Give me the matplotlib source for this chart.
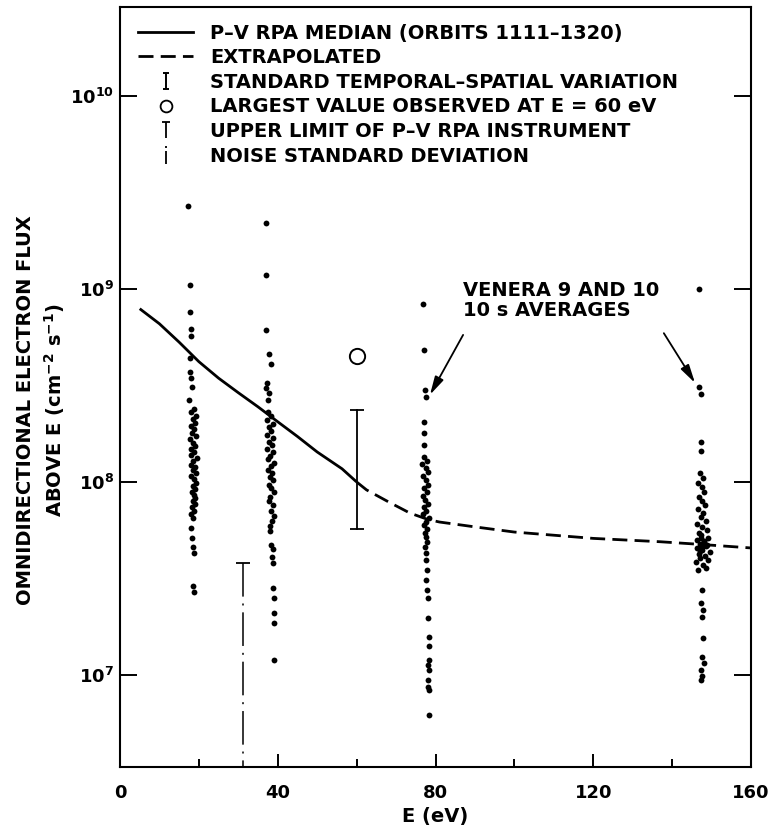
import math
import matplotlib
matplotlib.use("Agg")
import matplotlib.pyplot as plt
from matplotlib.path import Path
from matplotlib.lines import Line2D
from matplotlib.ticker import FixedLocator, FuncFormatter

plt.rcParams['font.family'] = ['DejaVu Sans']
plt.rcParams['mathtext.fontset'] = 'dejavusans'

# ---- P-V RPA median spectrum (measured) and its extrapolation ----
median_E = [5, 10, 15, 20, 25, 30, 35, 40, 45, 50, 56.3, 60]
median_flux = [7.9e8, 6.6e8, 5.3e8, 4.2e8, 3.45e8, 2.9e8, 2.45e8, 2.05e8,
               1.72e8, 1.43e8, 1.17e8, 1.0e8]
extrap_E = [60, 62.5, 68, 73.5, 78, 81, 90, 100, 120, 137, 147, 160]
extrap_flux = [1.0e8, 9.1e7, 7.9e7, 6.9e7, 6.4e7, 6.2e7, 5.85e7, 5.5e7,
               5.1e7, 4.9e7, 4.75e7, 4.55e7]

# ---- temporal-spatial variation and largest value at 60 eV ----
var_E = 60
var_low, var_high = 5.7e7, 2.36e8
largest_E = 60
largest_flux = 4.5e8

# ---- instrument upper limit / noise standard deviation ----
noise_E = 31.2
noise_limit = 3.8e7

# ---- Venera 9 and 10, 10 s averages ----
v20_E = [17.2, 17.7, 17.8, 18.0, 18.0, 17.7, 17.8, 17.9, 18.2, 17.5,
         18.8, 18.1, 19.3, 18.4, 19.0, 17.9, 18.7, 18.3, 19.2, 17.8,
         18.6, 19.1, 18.0, 18.8, 17.9, 19.4, 18.5, 18.0, 18.9, 18.4,
         19.2, 18.1, 18.7, 19.3, 18.5, 19.0, 18.3, 18.8, 19.1, 18.4,
         18.9, 18.2, 18.7, 18.0, 18.5,
         17.9, 18.2, 18.5, 18.8, 18.6, 18.8]
v20_flux = [2.7e9, 1.05e9, 7.6e8, 6.2e8, 5.7e8, 4.4e8, 3.7e8, 3.46e8, 3.1e8, 2.66e8,
            2.4e8, 2.3e8, 2.2e8, 2.12e8, 2.03e8, 1.95e8, 1.88e8, 1.8e8, 1.73e8, 1.66e8,
            1.6e8, 1.54e8, 1.48e8, 1.43e8, 1.38e8, 1.33e8, 1.28e8, 1.23e8, 1.19e8, 1.15e8,
            1.11e8, 1.07e8, 1.03e8, 9.9e7, 9.5e7, 9.2e7, 8.9e7, 8.6e7, 8.3e7, 8.0e7,
            7.7e7, 7.4e7, 7.1e7, 6.8e7, 6.5e7,
            5.8e7, 5.1e7, 4.6e7, 4.3e7, 2.9e7, 2.7e7]

v40_E = [37.0, 37.0, 37.0, 37.7, 38.3, 37.2, 37.1, 37.7, 37.6,
         37.5, 38.4, 37.2, 38.7, 37.8, 38.2, 37.3, 38.9, 37.9, 38.5,
         37.4, 38.8, 38.1, 37.6, 39.0, 38.3, 37.5, 38.6, 38.0, 38.9,
         37.7, 38.4, 39.1, 38.1, 37.8, 38.7, 38.2, 39.0, 38.5, 38.1,
         38.0, 38.3, 38.7, 38.6, 38.9, 38.8, 39.0, 39.0, 39.0, 39.0]
v40_flux = [2.2e9, 1.18e9, 6.1e8, 4.6e8, 4.1e8, 3.26e8, 3.07e8, 2.89e8, 2.66e8,
            2.3e8, 2.2e8, 2.1e8, 2.0e8, 1.92e8, 1.84e8, 1.76e8, 1.69e8, 1.62e8, 1.55e8,
            1.49e8, 1.43e8, 1.37e8, 1.31e8, 1.26e8, 1.21e8, 1.16e8, 1.11e8, 1.06e8, 1.02e8,
            9.7e7, 9.3e7, 8.9e7, 8.4e7, 8.0e7, 7.6e7, 7.1e7, 6.7e7, 6.3e7, 5.9e7,
            5.6e7, 4.7e7, 4.5e7, 4.1e7, 3.8e7, 2.83e7, 2.51e7, 2.1e7, 1.86e7, 1.2e7]

v80_E = [76.8, 77.0, 77.3, 77.6, 77.0, 77.2, 77.2,
         77.0, 77.8, 76.7, 77.5, 78.1, 76.9, 77.6, 78.2, 77.1, 77.9,
         76.8, 77.4, 78.0, 77.2, 77.7, 76.9, 78.3, 77.5, 77.0, 77.8,
         77.3, 77.6, 77.9, 77.4,
         77.5, 77.6, 77.8, 77.7, 77.9, 78.1, 78.2, 78.3, 78.3, 78.3,
         78.1, 78.4, 78.2, 78.0, 78.4, 78.3]
v80_flux = [8.4e8, 4.8e8, 3.0e8, 2.75e8, 2.05e8, 1.79e8, 1.56e8,
            1.35e8, 1.29e8, 1.24e8, 1.18e8, 1.12e8, 1.07e8, 1.02e8, 9.7e7, 9.3e7, 8.9e7,
            8.5e7, 8.1e7, 7.7e7, 7.4e7, 7.1e7, 6.8e7, 6.5e7, 6.2e7, 5.95e7, 5.7e7,
            5.45e7, 5.2e7, 4.9e7, 4.6e7,
            4.3e7, 3.95e7, 3.5e7, 3.1e7, 2.75e7, 2.5e7, 1.97e7, 1.57e7, 1.41e7, 1.2e7,
            1.13e7, 1.06e7, 9.4e6, 8.7e6, 8.4e6, 6.2e6]

v150_E = [146.9, 146.9, 147.3, 147.3, 147.3,
          147.0, 147.8, 146.6, 147.5, 148.2, 146.9, 147.6, 148.4, 146.5, 147.9,
          147.2, 148.6, 146.3, 147.7, 148.9, 146.8, 147.4, 149.2, 146.2, 148.1,
          147.0, 148.7, 146.4, 147.6, 149.5, 146.7, 148.3, 147.1, 149.0, 146.0,
          147.9, 148.5, 146.6, 147.4, 148.8, 147.0, 148.2, 147.5,
          147.6, 147.4, 147.8, 147.6, 147.8, 147.5, 148.0, 147.3, 147.7, 147.4]
v150_flux = [1.0e9, 3.1e8, 2.86e8, 1.61e8, 1.45e8,
             1.11e8, 1.05e8, 9.9e7, 9.4e7, 8.9e7, 8.4e7, 8.0e7, 7.6e7, 7.2e7, 6.9e7,
             6.6e7, 6.3e7, 6.05e7, 5.85e7, 5.65e7, 5.45e7, 5.3e7, 5.15e7, 5.0e7, 4.88e7,
             4.76e7, 4.65e7, 4.55e7, 4.45e7, 4.35e7, 4.25e7, 4.15e7, 4.05e7, 3.95e7, 3.85e7,
             3.72e7, 3.6e7, 3.5e7, 5.1e7, 4.7e7, 4.4e7, 4.95e7, 4.6e7,
             2.75e7, 2.36e7, 2.17e7, 2.0e7, 1.56e7, 1.24e7, 1.15e7, 1.06e7, 9.9e6, 9.4e6]

x_major = [0, 40, 80, 120, 160]
x_minor = [20, 60, 100, 140]
y_major = [1e7, 1e8, 1e9, 1e10]

legend_labels = [
    "P\u2013V RPA MEDIAN (ORBITS 1111\u20131320)",
    "EXTRAPOLATED",
    "STANDARD TEMPORAL\u2013SPATIAL VARIATION",
    "LARGEST VALUE OBSERVED AT E = 60 eV",
    "UPPER LIMIT OF P\u2013V RPA INSTRUMENT",
    "NOISE STANDARD DEVIATION",
]

FS = 14
TICK_FS = 13
WEIGHT = 'bold'
DASHED = (0, (5.4, 2.6))
DASHDOT = (0, (22, 4.5, 1.3, 4.5))

fig = plt.figure(figsize=(7.69, 8.32), dpi=100)
ax = fig.add_axes([120 / 769, 1 - 767 / 832, 631 / 769, 760 / 832])
ax.set_yscale('log')
ax.set_xlim(0, 160)
ax.set_ylim(10 ** 6.523, 10 ** 10.461)

# median spectrum and extrapolation
ax.plot(median_E, median_flux, color='k', lw=2.0, solid_capstyle='butt')
ax.plot(extrap_E, extrap_flux, color='k', lw=2.0, ls=DASHED)

# Venera data points
for xs, ys in [(v20_E, v20_flux), (v40_E, v40_flux),
               (v80_E, v80_flux), (v150_E, v150_flux)]:
    ax.plot(xs, ys, ls='none', marker='o', ms=4.2, mew=0, color='k')

# temporal-spatial variation bar
ax.plot([var_E, var_E], [var_low, var_high], color='k', lw=1.3)
ax.plot([var_E, var_E], [var_low, var_high], ls='none', marker='_',
        ms=9.5, mew=1.3, color='k')

# largest observed value
ax.plot([largest_E], [largest_flux], ls='none', marker='o', ms=11,
        mfc='none', mec='k', mew=1.4)

# instrument limit with noise level below it
y_bottom = ax.get_ylim()[0]
ax.plot([noise_E, noise_E], [noise_limit, y_bottom], color='k', lw=1.1, ls=DASHDOT)
ax.plot([noise_E], [noise_limit], ls='none', marker='_', ms=10, mew=1.3, color='k')

# annotation
ax.text(87.0, 8.7e8, "VENERA 9 AND 10\n10 s AVERAGES", fontsize=FS,
        fontweight=WEIGHT, ha='left', va='center', linespacing=1.08)
arrow = dict(arrowstyle='-|>,head_length=1.1,head_width=0.28', color='k',
             lw=1.3, shrinkA=0, shrinkB=0)
ax.annotate('', xy=(78.6, 2.83e8), xytext=(87.0, 5.78e8), arrowprops=arrow)
ax.annotate('', xy=(145.8, 3.26e8), xytext=(137.9, 5.9e8), arrowprops=arrow)

# legend symbols
M, L = Path.MOVETO, Path.LINETO
bar_marker = Path([(-0.45, 1), (0.45, 1), (0, 1), (0, -1), (-0.45, -1), (0.45, -1)],
                  [M, L, M, L, M, L])
limit_marker = Path([(-0.5, 1), (0.5, 1), (0, 1), (0, -1)], [M, L, M, L])
noise_marker = Path([(0, 1), (0, 0.8), (0, 0.45), (0, -1)], [M, L, M, L])

handles = [
    Line2D([], [], color='k', lw=2.0),
    Line2D([], [], color='k', lw=2.0, ls=DASHED),
    Line2D([], [], ls='none', marker=bar_marker, ms=11, mew=1.4,
           mfc='none', mec='k'),
    Line2D([], [], ls='none', marker='o', ms=8.5, mew=1.3, mfc='none', mec='k'),
    Line2D([], [], ls='none', marker=limit_marker, ms=12, mew=1.3,
           mfc='none', mec='k'),
    Line2D([], [], ls='none', marker=noise_marker, ms=13.5, mew=1.3,
           mfc='none', mec='k'),
]
leg = ax.legend(handles, legend_labels, loc='upper left',
                bbox_to_anchor=(18 / 631, 1 - 16.5 / 760), borderaxespad=0,
                borderpad=0, frameon=False, handlelength=2.83,
                handletextpad=0.87, labelspacing=0.29,
                prop={'size': FS, 'weight': WEIGHT})

# axes styling
for sp in ax.spines.values():
    sp.set_linewidth(1.5)

ax.xaxis.set_major_locator(FixedLocator(x_major))
ax.xaxis.set_minor_locator(FixedLocator(x_minor))
ax.yaxis.set_major_locator(FixedLocator(y_major))
ax.yaxis.set_minor_locator(FixedLocator([]))
ax.yaxis.set_major_formatter(FuncFormatter(
    lambda v, pos: r'$\mathbf{10}^{\mathbf{%d}}$' % round(math.log10(v))))
ax.xaxis.set_major_formatter(FuncFormatter(lambda v, pos: '%d' % v))

ax.tick_params(axis='x', which='major', direction='in', length=9.5, width=1.4,
               labelsize=TICK_FS, pad=12, top=False)
ax.tick_params(axis='x', which='minor', direction='in', length=5.5, width=1.4,
               top=False)
ax.tick_params(axis='y', which='major', direction='in', length=12, width=1.4,
               labelsize=TICK_FS, pad=4, left=True, right=True)
for lab in ax.get_xticklabels() + ax.get_yticklabels():
    lab.set_fontweight(WEIGHT)

ax.set_xlabel("E (eV)", fontsize=FS, fontweight=WEIGHT)
ax.xaxis.set_label_coords(0.499, -0.053)
ax.set_ylabel("OMNIDIRECTIONAL ELECTRON FLUX\n"
              r"ABOVE E (cm$^{\mathbf{-2}}$ s$^{\mathbf{-1}}$)",
              fontsize=FS, fontweight=WEIGHT, linespacing=1.35, va='center')
ax.yaxis.set_label_coords(-0.124, 0.47)

fig.savefig('out.png', dpi=100)
